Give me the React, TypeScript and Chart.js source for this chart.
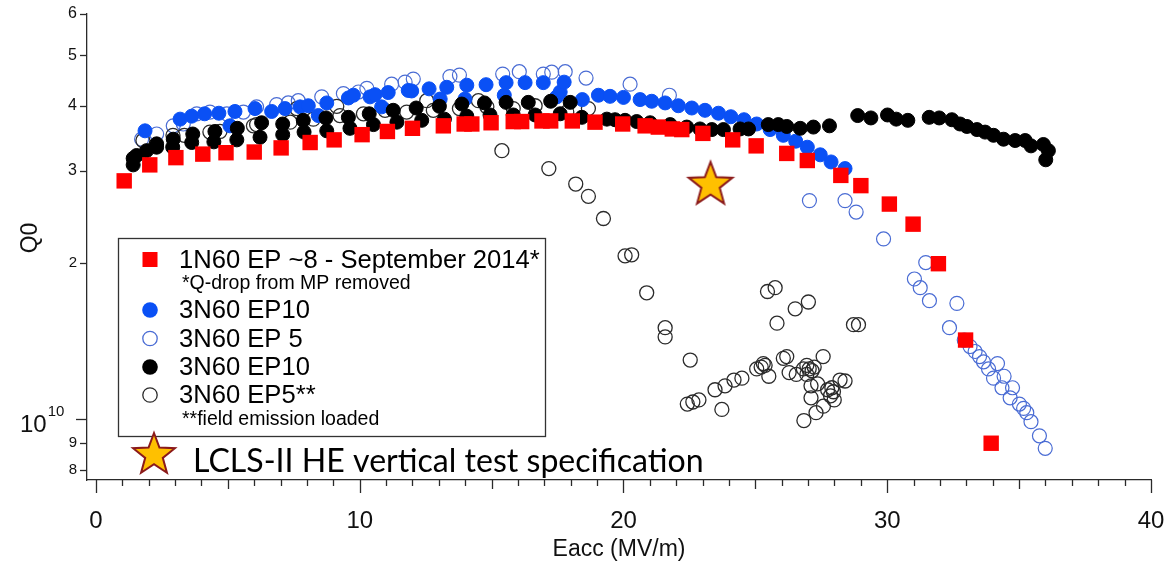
import { useEffect, useRef } from 'react';
import { Chart, registerables } from 'chart.js';

Chart.register(...registerables);

const FONT = '"Liberation Sans", Arial, Helvetica, sans-serif';
const CAPTION_FONT = 'Lato, "Open Sans", sans-serif';

// Eacc in MV/m, Q0 in units of 1e10
const ep8Eacc = [1.07, 2.04, 3.03, 4.05, 4.93, 6.0, 7.02, 8.12, 9.03, 10.09, 11.05, 12.0, 13.17, 13.96, 14.25, 14.98, 15.82, 16.14, 16.91, 17.24, 18.06, 18.92, 19.97, 20.82, 21.32, 21.85, 22.21, 23.01, 24.14, 25.03, 26.19, 26.97, 28.24, 29.0, 30.08, 30.98, 31.94, 32.97, 33.94];
const ep8Q = [2.87, 3.08, 3.18, 3.23, 3.25, 3.26, 3.32, 3.40, 3.44, 3.52, 3.57, 3.62, 3.66, 3.69, 3.69, 3.71, 3.73, 3.73, 3.74, 3.74, 3.74, 3.72, 3.69, 3.66, 3.64, 3.61, 3.60, 3.54, 3.44, 3.35, 3.24, 3.14, 2.94, 2.81, 2.59, 2.37, 1.99, 1.42, 0.90];

const ep10BlueEacc = [1.86, 3.19, 3.63, 4.12, 4.66, 5.08, 5.27, 6.03, 6.66, 7.17, 7.74, 8.05, 8.43, 8.75, 9.57, 9.76, 10.39, 10.58, 10.83, 11.08, 11.84, 11.97, 12.63, 13.05, 13.30, 13.99, 14.06, 14.79, 15.48, 15.55, 16.27, 16.96, 17.47, 17.60, 17.75, 18.44, 19.05, 19.49, 20.0, 20.63, 21.07, 21.58, 22.08, 22.59, 23.09, 23.60, 24.07, 24.57, 25.05, 25.56, 26.06, 26.53, 26.97, 27.46, 27.87, 28.40];
const ep10BlueQ = [3.58, 3.77, 3.82, 3.86, 3.87, 3.66, 3.90, 3.95, 3.90, 3.95, 3.98, 4.00, 3.83, 4.05, 4.14, 4.19, 4.16, 4.20, 3.98, 4.24, 4.28, 4.27, 4.31, 4.12, 4.34, 4.12, 4.38, 4.39, 4.19, 4.43, 4.43, 4.43, 4.16, 4.25, 4.44, 4.11, 4.19, 4.17, 4.15, 4.11, 4.08, 4.05, 4.00, 3.96, 3.92, 3.87, 3.81, 3.76, 3.69, 3.60, 3.51, 3.42, 3.33, 3.22, 3.12, 3.03];

const ep5BlueEacc = [1.73, 2.30, 2.93, 3.31, 3.82, 4.32, 4.96, 5.59, 6.09, 6.85, 7.29, 7.67, 8.56, 9.38, 9.95, 10.27, 11.21, 11.72, 12.03, 13.42, 13.78, 15.42, 16.05, 16.96, 17.28, 17.79, 18.58, 20.25, 21.74, 27.05, 28.40, 28.82, 29.86, 31.03, 31.25, 31.46, 31.60, 32.64, 32.36, 32.92, 33.14, 33.33, 33.50, 33.65, 33.84, 34.18, 34.43, 34.03, 34.35, 34.75, 34.66, 35.01, 35.17, 35.29, 35.45, 35.77, 35.99];
const ep5BlueQ = [3.45, 3.53, 3.66, 3.69, 3.86, 3.89, 3.86, 3.89, 3.98, 4.02, 4.05, 4.09, 4.16, 4.22, 4.25, 4.32, 4.40, 4.44, 4.50, 4.55, 4.58, 4.60, 4.65, 4.60, 4.64, 4.65, 4.52, 4.40, 4.19, 2.63, 2.63, 2.50, 2.22, 1.86, 1.79, 2.00, 1.69, 1.67, 1.50, 1.42, 1.38, 1.35, 1.32, 1.29, 1.25, 1.28, 1.21, 1.20, 1.15, 1.15, 1.10, 1.07, 1.05, 1.03, 0.99, 0.93, 0.88];

const ep10BlackEacc = [1.41, 1.41, 1.54, 1.92, 2.30, 2.30, 2.93, 2.91, 3.67, 3.63, 4.51, 4.47, 5.36, 5.34, 6.28, 6.22, 7.08, 7.08, 7.86, 7.89, 8.72, 8.75, 9.57, 9.63, 10.36, 10.52, 11.27, 11.41, 12.14, 12.35, 13.02, 13.21, 13.87, 14.06, 14.73, 14.94, 15.55, 15.82, 16.39, 16.65, 17.24, 17.60, 17.98, 18.42, 19.37, 19.68, 20.06, 20.50, 21.01, 21.77, 22.40, 22.90, 23.35, 23.79, 24.42, 24.74, 25.49, 25.87, 26.19, 26.70, 27.20, 27.81, 28.88, 29.38, 30.01, 30.34, 30.78, 31.59, 31.97, 32.45, 32.76, 33.02, 33.40, 33.71, 34.03, 34.41, 34.85, 35.23, 35.45, 35.92, 36.11, 36.01];
const ep10BlackQ = [3.08, 3.17, 3.21, 3.28, 3.33, 3.38, 3.45, 3.33, 3.53, 3.40, 3.57, 3.41, 3.62, 3.44, 3.71, 3.48, 3.69, 3.52, 3.75, 3.56, 3.79, 3.58, 3.80, 3.62, 3.86, 3.68, 3.92, 3.72, 3.96, 3.75, 3.99, 3.77, 4.03, 3.82, 4.05, 3.84, 4.06, 3.84, 4.06, 3.84, 4.08, 3.86, 4.06, 3.80, 3.77, 3.76, 3.75, 3.73, 3.71, 3.68, 3.64, 3.61, 3.60, 3.60, 3.61, 3.61, 3.68, 3.68, 3.65, 3.62, 3.64, 3.66, 3.83, 3.79, 3.84, 3.77, 3.75, 3.80, 3.79, 3.76, 3.69, 3.65, 3.60, 3.56, 3.51, 3.45, 3.43, 3.43, 3.35, 3.37, 3.28, 3.15];

const ep5BlackEacc = [1.78, 2.92, 3.35, 4.32, 4.70, 5.97, 6.09, 7.36, 7.61, 8.24, 9.13, 9.25, 10.14, 10.96, 11.78, 12.54, 12.79, 13.78, 14.50, 14.82, 15.82, 16.65, 17.85, 18.67, 15.39, 17.17, 18.19, 18.67, 19.24, 20.06, 20.31, 20.88, 21.58, 21.58, 22.53, 22.42, 22.63, 22.86, 23.47, 23.85, 23.73, 24.19, 24.49, 25.22, 25.37, 25.51, 25.46, 25.75, 26.51, 27.01, 25.82, 26.06, 26.19, 26.28, 26.55, 26.82, 27.04, 27.23, 27.57, 26.95, 27.11, 27.36, 27.11, 27.74, 27.96, 28.21, 28.40, 27.99, 27.58, 27.30, 26.84, 28.72, 28.91, 25.05, 25.30, 26.95, 27.15, 27.85, 27.90];
const ep5BlackQ = [3.43, 3.51, 3.51, 3.56, 3.57, 3.66, 3.68, 3.72, 3.95, 3.77, 3.99, 3.83, 3.86, 3.92, 3.89, 4.09, 3.92, 3.95, 4.09, 3.98, 3.95, 4.00, 3.89, 3.95, 3.28, 3.03, 2.83, 2.68, 2.43, 2.06, 2.07, 1.75, 1.50, 1.44, 1.30, 1.07, 1.08, 1.09, 1.14, 1.16, 1.045, 1.19, 1.20, 1.26, 1.27, 1.21, 1.76, 1.79, 1.63, 1.68, 1.53, 1.31, 1.32, 1.23, 1.22, 1.25, 1.25, 1.26, 1.32, 1.22, 1.16, 1.17, 1.10, 1.14, 1.13, 1.19, 1.185, 1.09, 1.06, 1.03, 0.995, 1.52, 1.52, 1.25, 1.28, 1.27, 1.24, 1.11, 1.15];

const specEacc = [23.3];
const specQ = [2.82];

const seriesNames = ['1N60 EP ~8 - September 2014*', '3N60 EP10', '3N60 EP 5', '3N60 EP10', '3N60 EP5**'];
const seriesNotes = ['*Q-drop from MP removed', '', '', '', '**field emission loaded'];
const specLabel = 'LCLS-II HE vertical test specification';
const xTitle = 'Eacc (MV/m)';
const yTitle = 'Q0';

const xTickValues = [0, 10, 20, 30, 40];
const yTickValues = [8e9, 9e9, 1e10, 2e10, 3e10, 4e10, 5e10, 6e10];
const yTickLabels = ['8', '9', '', '2', '3', '4', '5', '6'];
const xRange = [-0.34, 40];
const yRange = [7.65e9, 6e10];

// plot frame in canvas pixels
const FRAME = { left: 87, right: 1151, top: 14, bottom: 480 };

const RED = '#ff0000';
const BLUE = '#0a50f5';
const BLUE_RING = '#4a6cd4';
const BLACK = '#000000';
const GRAY_RING = '#2b2b2b';
const AXIS = '#2a2a2a';
const STAR_FILL = '#ffc000';
const STAR_EDGE = '#8b1a1a';

const toPoints = (xs: number[], qs: number[]) => xs.map((x, i) => ({ x, y: qs[i] * 1e10 }));

function starPath(ctx: CanvasRenderingContext2D, cx: number, cy: number, R: number, r: number) {
  ctx.beginPath();
  for (let i = 0; i < 10; i++) {
    const rad = i % 2 === 0 ? R : r;
    const a = -Math.PI / 2 + (i * Math.PI) / 5;
    const px = cx + rad * Math.cos(a);
    const py = cy + rad * Math.sin(a);
    if (i === 0) ctx.moveTo(px, py);
    else ctx.lineTo(px, py);
  }
  ctx.closePath();
}

function drawStar(ctx: CanvasRenderingContext2D, cx: number, cy: number, R: number) {
  ctx.save();
  starPath(ctx, cx, cy, R, R * 0.42);
  ctx.fillStyle = STAR_FILL;
  ctx.fill();
  ctx.lineWidth = 2;
  ctx.lineJoin = 'miter';
  ctx.strokeStyle = STAR_EDGE;
  ctx.stroke();
  ctx.restore();
}

function starImage(R: number) {
  const c = document.createElement('canvas');
  const s = Math.ceil(2 * R + 10);
  c.width = s;
  c.height = s;
  const ctx = c.getContext('2d');
  if (ctx) drawStar(ctx, s / 2, s / 2, R);
  return c;
}

type Marker = 'square' | 'dot' | 'ring';
const legendMarkers: { kind: Marker; color: string }[] = [
  { kind: 'square', color: RED },
  { kind: 'dot', color: BLUE },
  { kind: 'ring', color: BLUE_RING },
  { kind: 'dot', color: BLACK },
  { kind: 'ring', color: GRAY_RING },
];

function drawMarker(ctx: CanvasRenderingContext2D, kind: Marker, color: string, cx: number, cy: number) {
  ctx.save();
  if (kind === 'square') {
    ctx.fillStyle = color;
    ctx.fillRect(cx - 7.5, cy - 7.5, 15, 15);
  } else if (kind === 'dot') {
    ctx.beginPath();
    ctx.arc(cx, cy, 7.8, 0, Math.PI * 2);
    ctx.fillStyle = color;
    ctx.fill();
  } else {
    ctx.beginPath();
    ctx.arc(cx, cy, 7.2, 0, Math.PI * 2);
    ctx.lineWidth = 1.3;
    ctx.strokeStyle = color;
    ctx.stroke();
  }
  ctx.restore();
}

// pins the plot frame so the axes land on fixed pixel positions
const pinFrame = {
  id: 'pinFrame',
  afterLayout(chart: any) {
    const ca = chart.chartArea;
    const xs = chart.scales.x;
    const ys = chart.scales.y;
    ca.left = FRAME.left;
    ca.right = FRAME.right;
    ca.top = FRAME.top;
    ca.bottom = FRAME.bottom;
    ca.width = ca.right - ca.left;
    ca.height = ca.bottom - ca.top;
    xs.left = FRAME.left;
    xs.right = FRAME.right;
    xs.width = FRAME.right - FRAME.left;
    xs.top = FRAME.bottom;
    xs.bottom = FRAME.bottom + 85;
    xs.height = 85;
    xs.configure();
    ys.top = FRAME.top;
    ys.bottom = FRAME.bottom;
    ys.height = FRAME.bottom - FRAME.top;
    ys.left = 0;
    ys.right = FRAME.left;
    ys.width = FRAME.left;
    ys.configure();
  },
  beforeDraw(chart: any) {
    const xs = chart.scales.x;
    const ys = chart.scales.y;
    xs._labelItems = null;
    xs._gridLineItems = null;
    ys._labelItems = null;
    ys._gridLineItems = null;
    const items = xs.getLabelItems(chart.chartArea);
    items.forEach((it: any) => {
      it.options.translation = [it.options.translation[0], FRAME.bottom + 27];
      it.options.textBaseline = 'middle';
    });
  },
};

const decorations = {
  id: 'decorations',
  afterDraw(chart: any) {
    const { ctx, chartArea, scales } = chart;
    const xs = scales.x;
    const ys = scales.y;
    ctx.save();

    // tick marks below the x axis and left of the y axis
    ctx.strokeStyle = AXIS;
    ctx.lineWidth = 1.3;
    for (let v = 0; v <= 40; v++) {
      const px = Math.round(xs.getPixelForValue(v)) + 0.5;
      const len = v % 10 === 0 ? 13 : v % 5 === 0 ? 9 : 6;
      ctx.beginPath();
      ctx.moveTo(px, chartArea.bottom);
      ctx.lineTo(px, chartArea.bottom + len);
      ctx.stroke();
    }
    for (const v of yTickValues) {
      const py = Math.round(ys.getPixelForValue(v)) + 0.5;
      const len = v === 1e10 ? 11 : 7;
      ctx.beginPath();
      ctx.moveTo(chartArea.left, py);
      ctx.lineTo(chartArea.left - len, py);
      ctx.stroke();
    }

    // decade label 10^10
    const pDecade = ys.getPixelForValue(1e10);
    ctx.fillStyle = '#111';
    ctx.textAlign = 'left';
    ctx.textBaseline = 'alphabetic';
    ctx.font = `24px ${FONT}`;
    ctx.fillText('10', 20, pDecade + 13);
    const wBase = ctx.measureText('10').width;
    ctx.font = `15px ${FONT}`;
    ctx.fillText('10', 20 + wBase + 1, pDecade - 3);

    // axis titles
    ctx.font = `23px ${FONT}`;
    ctx.textAlign = 'center';
    ctx.textBaseline = 'middle';
    ctx.fillText(xTitle, (chartArea.left + chartArea.right) / 2, 550);
    ctx.save();
    ctx.translate(31, 238);
    ctx.rotate(-Math.PI / 2);
    ctx.fillText(yTitle, 0, 0);
    ctx.restore();
    ctx.textAlign = 'left';

    // legend box
    const bx = 118.5;
    const by = 238.5;
    ctx.fillStyle = '#ffffff';
    ctx.fillRect(bx, by, 427, 198);
    ctx.strokeStyle = '#333';
    ctx.lineWidth = 1.3;
    ctx.strokeRect(bx, by, 427, 198);

    const rowY = [259.5, 310, 338.5, 367, 395];
    const noteY = [283.5, 0, 0, 0, 420];
    ctx.textBaseline = 'middle';
    seriesNames.forEach((name, i) => {
      drawMarker(ctx, legendMarkers[i].kind, legendMarkers[i].color, 150, rowY[i]);
      ctx.fillStyle = '#000';
      ctx.font = `25.6px ${FONT}`;
      ctx.fillText(name, 179, rowY[i] + 1);
      if (seriesNotes[i]) {
        ctx.font = `19.5px ${FONT}`;
        ctx.fillText(seriesNotes[i], 182, noteY[i]);
      }
    });

    // specification caption with its star
    drawStar(ctx, 154, 455, 22);
    ctx.font = `30px ${CAPTION_FONT}`;
    const w30 = ctx.measureText(specLabel).width;
    const size = (30 * 511) / w30;
    ctx.font = `${size.toFixed(2)}px ${CAPTION_FONT}`;
    ctx.textBaseline = 'alphabetic';
    ctx.fillStyle = '#000';
    ctx.fillText(specLabel, 193, 472);

    ctx.restore();
  },
};

export default function App() {
  const ref = useRef<HTMLCanvasElement | null>(null);

  useEffect(() => {
    if (!ref.current) return;
    const chart = new Chart(ref.current, {
      type: 'scatter',
      data: {
        datasets: [
          {
            label: specLabel,
            data: toPoints(specEacc, specQ),
            pointStyle: starImage(23) as any,
            pointRadius: 23,
            order: 0,
          },
          {
            label: seriesNames[0],
            data: toPoints(ep8Eacc, ep8Q),
            pointStyle: 'rect',
            pointRadius: 10.9,
            backgroundColor: RED,
            borderWidth: 0,
            order: 1,
          },
          {
            label: seriesNames[3],
            data: toPoints(ep10BlackEacc, ep10BlackQ),
            pointStyle: 'circle',
            pointRadius: 7,
            backgroundColor: BLACK,
            borderColor: BLACK,
            borderWidth: 1,
            order: 2,
          },
          {
            label: seriesNames[1],
            data: toPoints(ep10BlueEacc, ep10BlueQ),
            pointStyle: 'circle',
            pointRadius: 7,
            backgroundColor: BLUE,
            borderColor: BLUE,
            borderWidth: 1,
            order: 3,
          },
          {
            label: seriesNames[4],
            data: toPoints(ep5BlackEacc, ep5BlackQ),
            pointStyle: 'circle',
            pointRadius: 7,
            backgroundColor: 'rgba(0,0,0,0)',
            borderColor: GRAY_RING,
            borderWidth: 1.3,
            order: 4,
          },
          {
            label: seriesNames[2],
            data: toPoints(ep5BlueEacc, ep5BlueQ),
            pointStyle: 'circle',
            pointRadius: 7,
            backgroundColor: 'rgba(0,0,0,0)',
            borderColor: BLUE_RING,
            borderWidth: 1.2,
            order: 5,
          },
        ],
      },
      options: {
        animation: false,
        responsive: false,
        maintainAspectRatio: false,
        events: [],
        layout: { padding: { left: 0, top: 14, right: 16, bottom: 0 } },
        plugins: { legend: { display: false }, tooltip: { enabled: false } },
        scales: {
          x: {
            type: 'linear',
            min: xRange[0],
            max: xRange[1],
            afterBuildTicks: (s: any) => {
              s.ticks = xTickValues.map((value) => ({ value }));
            },
            afterFit: (s: any) => {
              s.height = 85;
            },
            grid: { display: false, drawTicks: false },
            border: { display: true, color: AXIS, width: 1.3 },
            ticks: {
              autoSkip: false,
              maxRotation: 0,
              padding: 2,
              color: '#111',
              font: { family: FONT, size: 24 },
              callback: (v: any) => String(v),
            },
          },
          y: {
            type: 'logarithmic',
            min: yRange[0],
            max: yRange[1],
            afterBuildTicks: (s: any) => {
              s.ticks = yTickValues.map((value) => ({ value }));
            },
            afterFit: (s: any) => {
              s.width = 87;
            },
            grid: { display: false, drawTicks: false },
            border: { display: true, color: AXIS, width: 1.3 },
            ticks: {
              autoSkip: false,
              padding: 10,
              color: '#111',
              font: (c: any) => ({
                family: FONT,
                size: c.tick && c.tick.value >= 3e10 ? 16 : 15,
              }),
              callback: (_v: any, i: number) => yTickLabels[i],
            },
          },
        },
      },
      plugins: [pinFrame, decorations],
    });
    return () => chart.destroy();
  }, []);

  return (
    <div style={{ position: 'fixed', left: 0, top: 0, width: 1167, height: 565, background: '#fff' }}>
      <canvas ref={ref} width={1167} height={565} style={{ display: 'block' }} />
    </div>
  );
}
